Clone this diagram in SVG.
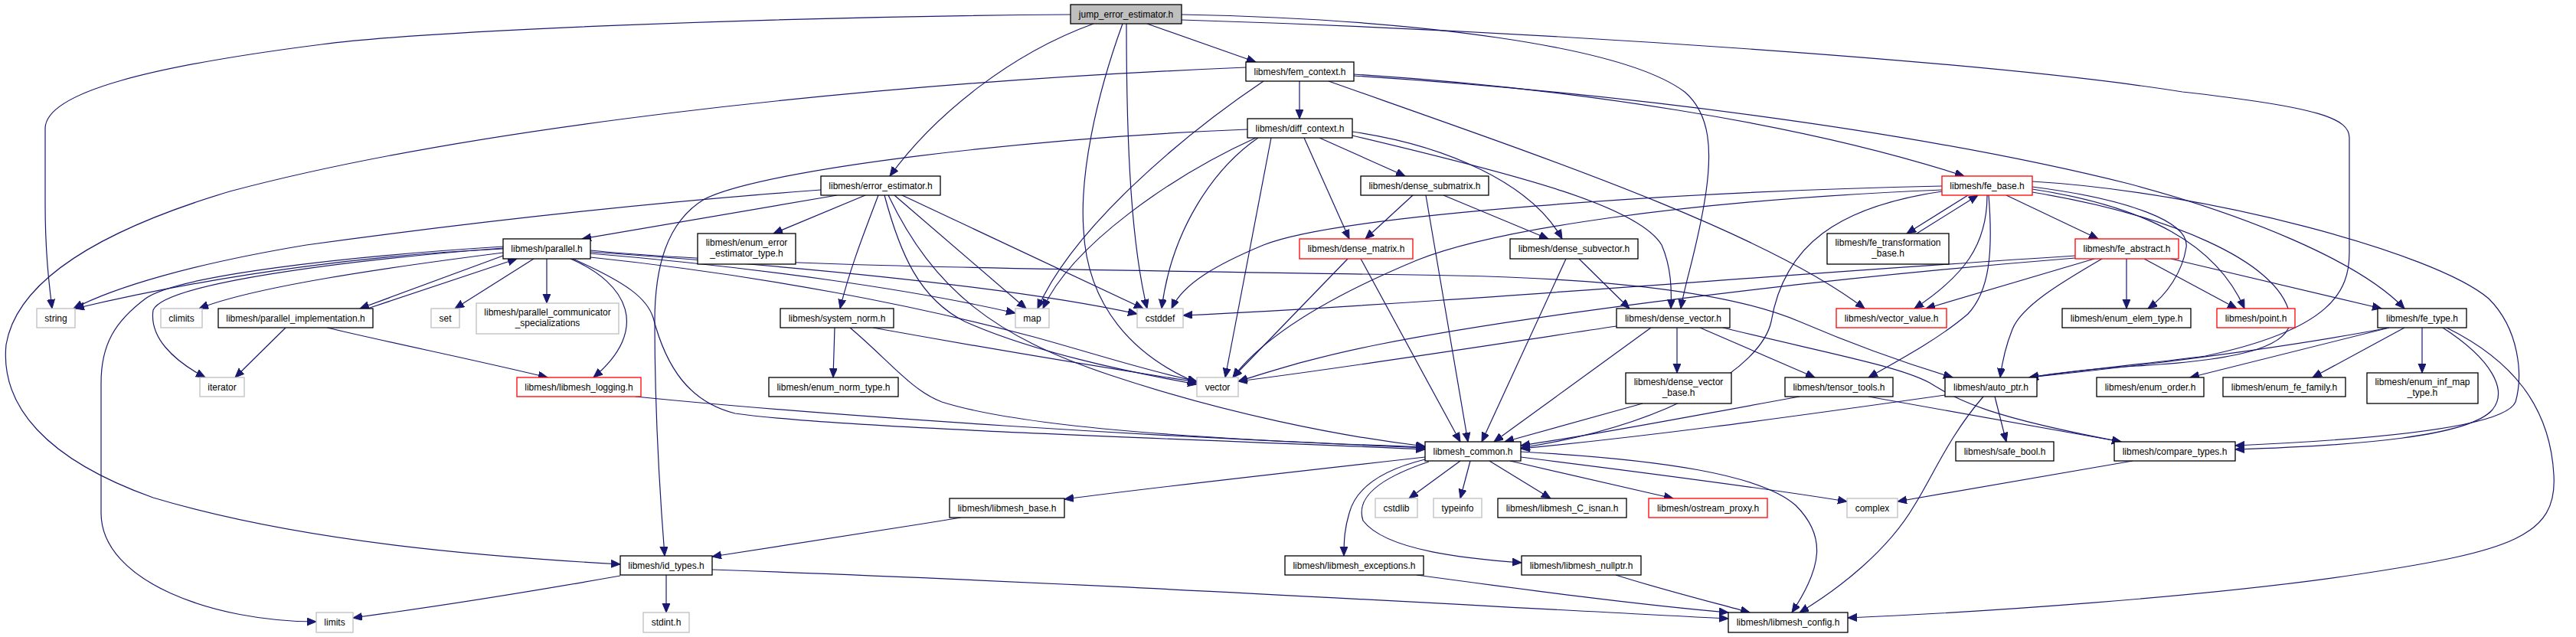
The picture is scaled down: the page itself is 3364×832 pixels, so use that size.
<svg xmlns="http://www.w3.org/2000/svg" width="3364" height="832" viewBox="0 0 3364 832">
<style>
.n rect{fill:#fff;stroke:#000;stroke-width:1.3}
.r rect{fill:#fff;stroke:#ff0000;stroke-width:1.3}
.g rect{fill:#fff;stroke:#bfbfbf;stroke-width:1.3}
.root rect{fill:#bfbfbf;stroke:#000;stroke-width:1.3}
text{font-family:"Liberation Sans",Arial,Helvetica,sans-serif;font-size:12px;text-anchor:middle;fill:#000}
.e path{fill:none;stroke:#191970;stroke-width:1.2;marker-end:url(#a)}
</style>
<defs>
<marker id="a" markerWidth="14" markerHeight="12" refX="12" refY="5" orient="auto" markerUnits="userSpaceOnUse">
<path d="M0,0 L12,5 L0,10 z" fill="#191970" stroke="#191970" stroke-width="1"/>
</marker>
</defs>
<rect width="3364" height="832" fill="#fff"/>
<g class="e" id="connectors">
<path d="M1398,19 C1000,22 560,40 420,58 C200,86 59,120 59,168 L59,265 C59,330 64,370 68,403"/>
<path d="M1428,31 C1320,70 1220,150 1162,230"/>
<path d="M1466,31 C1430,130 1410,230 1415,300 C1420,400 1480,465 1563,500"/>
<path d="M1471,31 C1471,200 1478,320 1498,403"/>
<path d="M1498,31 L1640,81"/>
<path d="M1543,19 C1850,25 2120,60 2200,120 C2235,150 2235,200 2228,250 C2218,320 2200,370 2195,403"/>
<path d="M1543,26 C2000,40 2600,80 2850,120 C3030,140 3068,155 3068,180 L3068,330 C3068,380 3045,430 2880,465 C2780,478 2700,485 2650,493"/>
<path d="M1072,248 C800,268 560,298 400,320 C250,345 150,375 96,403"/>
<path d="M1093,255 L760,312"/>
<path d="M1130,255 L1010,305"/>
<path d="M1147,255 C1130,300 1110,350 1097,403"/>
<path d="M1155,255 C1175,330 1200,390 1260,420 C1350,460 1470,485 1563,502"/>
<path d="M1160,255 C1220,380 1300,440 1450,490 C1600,540 1750,570 1861,583"/>
<path d="M1168,255 L1340,403"/>
<path d="M1178,255 L1493,403"/>
<path d="M657,325 C500,332 300,355 98,403"/>
<path d="M657,330 C500,350 330,375 260,403"/>
<path d="M657,334 L470,403"/>
<path d="M480,403 L675,338"/>
<path d="M657,322 C450,335 230,360 190,390 C150,420 132,450 132,500 L132,670 C132,760 280,812 413,812"/>
<path d="M657,324 C450,340 215,370 200,405 C195,440 225,470 268,493"/>
<path d="M697,338 L594,403"/>
<path d="M714,338 L714,396"/>
<path d="M745,338 C820,370 850,430 775,493"/>
<path d="M748,338 C820,370 845,390 853,415 C870,480 900,525 960,540 C1100,560 1600,575 1861,587"/>
<path d="M771,331 C1000,350 1200,380 1326,409"/>
<path d="M771,329 C1000,345 1300,370 1485,410"/>
<path d="M771,336 C1000,360 1200,400 1350,440 C1440,465 1500,485 1563,498"/>
<path d="M771,327 C1000,350 1500,353 1900,360 C2150,365 2280,390 2350,420 C2420,450 2490,475 2550,493"/>
<path d="M373,428 L307,493"/>
<path d="M427,428 C520,450 620,470 715,493"/>
<path d="M1697,106 L1697,155"/>
<path d="M1627,88 C1100,110 600,170 300,250 C100,310 20,380 8,450 C0,530 60,600 200,650 C400,710 650,728 810,737"/>
<path d="M1650,106 C1540,180 1400,300 1355,403"/>
<path d="M1768,97 C2050,115 2350,160 2565,230"/>
<path d="M1768,99 C2100,120 2500,170 2780,240 C2930,280 3080,340 3140,403"/>
<path d="M1735,106 C2000,200 2300,300 2435,403"/>
<path d="M1629,169 C1350,180 1000,220 920,260 C870,290 855,350 855,420 C855,550 862,650 868,726"/>
<path d="M1640,180 C1530,230 1400,320 1362,403"/>
<path d="M1643,180 C1585,220 1530,300 1517,403"/>
<path d="M1660,180 L1600,493"/>
<path d="M1703,180 L1762,312"/>
<path d="M1723,180 L1835,230"/>
<path d="M1766,172 C1890,190 2000,240 2040,312"/>
<path d="M1766,177 C1990,230 2140,270 2170,320 C2183,350 2183,380 2182,403"/>
<path d="M1845,255 L1783,312"/>
<path d="M1885,255 L2022,312"/>
<path d="M1862,255 L1917,577"/>
<path d="M1760,338 L1610,493"/>
<path d="M1777,338 L1907,577"/>
<path d="M2062,338 L2128,403"/>
<path d="M2045,338 L1935,577"/>
<path d="M2111,426 C1950,450 1760,480 1617,498"/>
<path d="M2156,428 L1951,577"/>
<path d="M2190,428 L2190,487"/>
<path d="M2220,428 L2370,493"/>
<path d="M2250,428 C2380,460 2480,478 2520,500 C2560,525 2600,545 2770,577"/>
<path d="M2145,527 L1965,577"/>
<path d="M2350,518 C2200,545 2100,565 1986,582"/>
<path d="M2440,518 L2770,577"/>
<path d="M2540,516 C2300,550 2150,570 1986,586"/>
<path d="M2605,518 L2620,577"/>
<path d="M2590,518 C2545,570 2525,620 2500,660 C2465,720 2400,770 2350,800"/>
<path d="M2536,243 C2200,250 1750,280 1650,320 C1590,345 1545,370 1530,403"/>
<path d="M2536,248 C2200,262 1950,300 1850,340 C1730,390 1650,440 1610,493"/>
<path d="M2536,250 C2400,270 2330,320 2313,420 C2300,480 2180,555 1986,585"/>
<path d="M2570,255 L2490,305"/>
<path d="M2503,305 L2583,255"/>
<path d="M2595,255 C2595,320 2565,360 2500,403"/>
<path d="M2597,255 C2603,330 2598,380 2570,410 C2535,440 2490,465 2440,493"/>
<path d="M2620,255 L2740,312"/>
<path d="M2654,237 C2880,250 3180,330 3250,390 C3290,430 3295,490 3285,525 C3270,560 3080,575 2919,582"/>
<path d="M2654,244 C2780,260 2860,290 2855,323 C2850,355 2830,385 2805,403"/>
<path d="M2654,247 C2805,270 2895,320 2931,403"/>
<path d="M2654,251 C2830,280 2975,340 2990,410 C3000,450 2935,470 2790,478 C2720,482 2680,488 2650,493"/>
<path d="M2710,334 C2300,360 1900,395 1545,412"/>
<path d="M2710,337 C2300,370 1950,420 1800,450 C1710,468 1660,485 1617,498"/>
<path d="M2745,338 C2690,370 2640,400 2628,430 C2620,450 2615,470 2612,493"/>
<path d="M2735,338 L2515,403"/>
<path d="M2777,338 L2777,403"/>
<path d="M2800,338 L2921,403"/>
<path d="M2835,338 L3110,403"/>
<path d="M3120,428 C2980,455 2820,475 2650,493"/>
<path d="M3120,428 L2860,493"/>
<path d="M3140,428 L3020,493"/>
<path d="M3163,428 L3163,487"/>
<path d="M3190,428 C3255,470 3275,510 3255,535 C3225,570 3080,582 2919,587"/>
<path d="M3195,428 C3280,470 3330,530 3335,620 C3340,700 3280,720 3080,750 C2880,780 2580,800 2413,807"/>
<path d="M1861,597 C1700,615 1520,635 1390,652"/>
<path d="M1907,602 L1840,651"/>
<path d="M1920,602 L1907,651"/>
<path d="M1945,602 L2025,651"/>
<path d="M1972,602 L2185,651"/>
<path d="M1986,597 C2170,620 2320,640 2412,655"/>
<path d="M1861,600 C1800,615 1770,640 1762,670 C1756,690 1755,705 1755,726"/>
<path d="M1866,603 C1800,625 1770,650 1780,680 C1810,720 1920,730 1987,735"/>
<path d="M1986,590 C2170,600 2300,620 2345,660 C2385,700 2380,740 2340,800"/>
<path d="M1090,428 L1088,493"/>
<path d="M1140,428 C1290,455 1440,480 1563,499"/>
<path d="M1110,428 C1160,470 1190,510 1230,525 C1340,560 1600,575 1861,584"/>
<path d="M830,518 C1100,545 1500,570 1861,585"/>
<path d="M1255,676 C1140,695 1020,712 930,727"/>
<path d="M870,751 L870,800"/>
<path d="M810,752 C680,775 550,795 461,807"/>
<path d="M930,744 C1400,760 1900,790 2257,808"/>
<path d="M1850,751 C1990,770 2140,790 2257,800"/>
<path d="M2110,751 C2170,770 2230,785 2285,800"/>
<path d="M2785,602 L2478,655"/>
</g>
<g id="n_jump" class="root"><rect x="1398" y="6" width="145" height="25"/><text x="1470.5" y="22.5">jump_error_estimator.h</text></g>
<g id="n_fem" class="n"><rect x="1627" y="81" width="141" height="25"/><text x="1697.5" y="97.5">libmesh/fem_context.h</text></g>
<g id="n_diff" class="n"><rect x="1629" y="155" width="137" height="25"/><text x="1697.5" y="171.5">libmesh/diff_context.h</text></g>
<g id="n_err" class="n"><rect x="1072" y="230" width="156" height="25"/><text x="1150" y="246.5">libmesh/error_estimator.h</text></g>
<g id="n_par" class="n"><rect x="657" y="312" width="114" height="26"/><text x="714" y="329">libmesh/parallel.h</text></g>
<g id="n_eeet" class="n"><rect x="911" y="305" width="128" height="40"/><text x="975" y="321">libmesh/enum_error</text><text x="975" y="335">_estimator_type.h</text></g>
<g id="n_dsm" class="n"><rect x="1777" y="230" width="167" height="25"/><text x="1860.5" y="246.5">libmesh/dense_submatrix.h</text></g>
<g id="n_dm" class="r"><rect x="1697" y="312" width="148" height="26"/><text x="1771" y="329">libmesh/dense_matrix.h</text></g>
<g id="n_dsv" class="n"><rect x="1972" y="312" width="167" height="26"/><text x="2055.5" y="329">libmesh/dense_subvector.h</text></g>
<g id="n_dv" class="n"><rect x="2111" y="403" width="148" height="25"/><text x="2185" y="419.5">libmesh/dense_vector.h</text></g>
<g id="n_feb" class="r"><rect x="2536" y="230" width="118" height="25"/><text x="2595" y="246.5">libmesh/fe_base.h</text></g>
<g id="n_fetb" class="n"><rect x="2386" y="305" width="159" height="40"/><text x="2465.5" y="321">libmesh/fe_transformation</text><text x="2465.5" y="335">_base.h</text></g>
<g id="n_fea" class="r"><rect x="2710" y="312" width="135" height="26"/><text x="2777.5" y="329">libmesh/fe_abstract.h</text></g>
<g id="n_vv" class="r"><rect x="2398" y="403" width="144" height="25"/><text x="2470" y="419.5">libmesh/vector_value.h</text></g>
<g id="n_eet" class="n"><rect x="2693" y="403" width="168" height="25"/><text x="2777" y="419.5">libmesh/enum_elem_type.h</text></g>
<g id="n_pt" class="r"><rect x="2895" y="403" width="102" height="25"/><text x="2946" y="419.5">libmesh/point.h</text></g>
<g id="n_fet" class="n"><rect x="3105" y="403" width="116" height="25"/><text x="3163" y="419.5">libmesh/fe_type.h</text></g>
<g id="n_string" class="g"><rect x="48" y="403" width="50" height="25"/><text x="73" y="419.5">string</text></g>
<g id="n_climits" class="g"><rect x="210" y="403" width="54" height="25"/><text x="237" y="419.5">climits</text></g>
<g id="n_pimpl" class="n"><rect x="285" y="403" width="202" height="25"/><text x="386" y="419.5">libmesh/parallel_implementation.h</text></g>
<g id="n_set" class="g"><rect x="563" y="403" width="37" height="25"/><text x="581.5" y="419.5">set</text></g>
<g id="n_pcs" class="g"><rect x="622" y="396" width="186" height="40"/><text x="715" y="412">libmesh/parallel_communicator</text><text x="715" y="426">_specializations</text></g>
<g id="n_map" class="g"><rect x="1326" y="403" width="44" height="25"/><text x="1348" y="419.5">map</text></g>
<g id="n_cstddef" class="g"><rect x="1485" y="403" width="60" height="25"/><text x="1515" y="419.5">cstddef</text></g>
<g id="n_sn" class="n"><rect x="1019" y="403" width="148" height="25"/><text x="1093" y="419.5">libmesh/system_norm.h</text></g>
<g id="n_vector" class="g"><rect x="1563" y="493" width="54" height="25"/><text x="1590" y="509.5">vector</text></g>
<g id="n_ent" class="n"><rect x="1004" y="493" width="169" height="25"/><text x="1088.5" y="509.5">libmesh/enum_norm_type.h</text></g>
<g id="n_log" class="r"><rect x="675" y="493" width="162" height="25"/><text x="756" y="509.5">libmesh/libmesh_logging.h</text></g>
<g id="n_iter" class="g"><rect x="261" y="493" width="58" height="25"/><text x="290" y="509.5">iterator</text></g>
<g id="n_tt" class="n"><rect x="2331" y="493" width="141" height="25"/><text x="2401.5" y="509.5">libmesh/tensor_tools.h</text></g>
<g id="n_dvb" class="n"><rect x="2123" y="487" width="138" height="40"/><text x="2192" y="503">libmesh/dense_vector</text><text x="2192" y="517">_base.h</text></g>
<g id="n_ap" class="n"><rect x="2540" y="493" width="120" height="25"/><text x="2600" y="509.5">libmesh/auto_ptr.h</text></g>
<g id="n_eo" class="n"><rect x="2738" y="493" width="140" height="25"/><text x="2808" y="509.5">libmesh/enum_order.h</text></g>
<g id="n_eff" class="n"><rect x="2903" y="493" width="160" height="25"/><text x="2983" y="509.5">libmesh/enum_fe_family.h</text></g>
<g id="n_eimt" class="n"><rect x="3091" y="487" width="145" height="40"/><text x="3163.5" y="503">libmesh/enum_inf_map</text><text x="3163.5" y="517">_type.h</text></g>
<g id="n_lc" class="n"><rect x="1861" y="577" width="125" height="25"/><text x="1923.5" y="593.5">libmesh_common.h</text></g>
<g id="n_sb" class="n"><rect x="2554" y="577" width="128" height="25"/><text x="2618" y="593.5">libmesh/safe_bool.h</text></g>
<g id="n_ct" class="n"><rect x="2761" y="577" width="158" height="25"/><text x="2840" y="593.5">libmesh/compare_types.h</text></g>
<g id="n_lb" class="n"><rect x="1240" y="651" width="150" height="25"/><text x="1315" y="667.5">libmesh/libmesh_base.h</text></g>
<g id="n_cstdlib" class="g"><rect x="1796" y="651" width="55" height="25"/><text x="1823.5" y="667.5">cstdlib</text></g>
<g id="n_typeinfo" class="g"><rect x="1872" y="651" width="63" height="25"/><text x="1903.5" y="667.5">typeinfo</text></g>
<g id="n_cis" class="n"><rect x="1956" y="651" width="168" height="25"/><text x="2040" y="667.5">libmesh/libmesh_C_isnan.h</text></g>
<g id="n_op" class="r"><rect x="2153" y="651" width="155" height="25"/><text x="2230.5" y="667.5">libmesh/ostream_proxy.h</text></g>
<g id="n_complex" class="g"><rect x="2412" y="651" width="66" height="25"/><text x="2445" y="667.5">complex</text></g>
<g id="n_idt" class="n"><rect x="810" y="726" width="120" height="25"/><text x="870" y="742.5">libmesh/id_types.h</text></g>
<g id="n_exc" class="n"><rect x="1678" y="726" width="181" height="25"/><text x="1768.5" y="742.5">libmesh/libmesh_exceptions.h</text></g>
<g id="n_null" class="n"><rect x="1987" y="726" width="156" height="25"/><text x="2065" y="742.5">libmesh/libmesh_nullptr.h</text></g>
<g id="n_limits" class="g"><rect x="413" y="800" width="48" height="26"/><text x="437" y="817">limits</text></g>
<g id="n_stdint" class="g"><rect x="840" y="800" width="60" height="26"/><text x="870" y="817">stdint.h</text></g>
<g id="n_lcfg" class="n"><rect x="2257" y="800" width="156" height="26"/><text x="2335" y="817">libmesh/libmesh_config.h</text></g>
</svg>
